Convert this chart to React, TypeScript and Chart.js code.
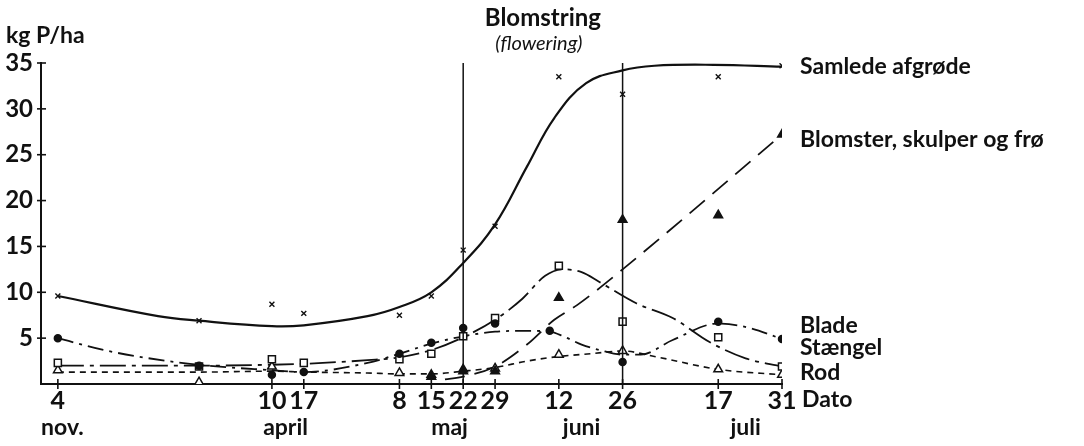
import React, { useEffect, useRef } from "react";
import { Chart, registerables } from "chart.js";

Chart.register(...registerables);

const WIDTH = 1084;
const HEIGHT = 446;
const FONT = "Lato, 'DejaVu Sans', sans-serif";
const INK = "#111";

// Days counted from 10 April; the winter months are compressed so that 4 Nov sits at -47.
const tickDays = [-47, 0, 7, 28, 35, 42, 49, 63, 77, 98, 112];
const tickLabels = ["4", "10", "17", "8", "15", "22", "29", "12", "26", "17", "31"];
const monthDays = [-46, 3, 39, 68, 104];
const monthLabels = ["nov.", "april", "maj", "juni", "juli"];
const floweringDays = [42, 77];
const yTickValues = [5, 10, 15, 20, 25, 30, 35];

// Measured samples (kg P/ha)
const samledeDays = [-47, -16, 0, 7, 28, 35, 42, 49, 63, 77, 98, 112];
const samledeValues = [9.6, 6.9, 8.7, 7.7, 7.5, 9.6, 14.6, 17.2, 33.5, 31.6, 33.5, 34.7];

const blomsterDays = [35, 42, 49, 63, 77, 98, 112];
const blomsterValues = [0.8, 1.4, 1.4, 9.4, 17.9, 18.4, 27.2];

const bladeDays = [-47, -16, 0, 7, 28, 35, 42, 49, 61, 77, 98, 112];
const bladeValues = [5.0, 2.0, 1.0, 1.3, 3.3, 4.5, 6.1, 6.6, 5.8, 2.4, 6.8, 4.9];

const staengelDays = [-47, -16, 0, 7, 28, 35, 42, 49, 63, 77, 98, 112];
const staengelValues = [2.3, 1.9, 2.7, 2.3, 2.7, 3.3, 5.2, 7.2, 12.9, 6.8, 5.1, 1.9];

const rodDays = [-47, -16, 0, 28, 35, 42, 49, 63, 77, 98, 112];
const rodValues = [1.5, 0.2, 1.9, 1.2, 1.0, 1.6, 1.7, 3.2, 3.6, 1.6, 1.0];

// Hand-fitted trend curves
const samledeCurveDays = [-47, -25, -16, 0, 7, 21, 28, 35, 42, 49, 56, 62, 69, 77, 84, 97, 112];
const samledeCurveValues = [9.6, 7.4, 6.9, 6.3, 6.4, 7.4, 8.4, 10.0, 13.2, 17.4, 23.7, 29.0, 32.8, 34.2, 34.7, 34.8, 34.6];

const blomsterCurveDays = [38, 42, 49, 56, 62, 67, 77, 112];
const blomsterCurveValues = [0.5, 0.8, 1.9, 4.3, 7.0, 8.6, 12.5, 27.2];

const bladeCurveDays = [-47, -36, -18, 0, 7, 21, 28, 35, 42, 49, 56, 61, 64, 68, 72, 77, 81, 88, 98, 105, 112];
const bladeCurveValues = [5.0, 3.6, 2.2, 1.5, 1.3, 2.3, 3.3, 4.4, 5.2, 5.7, 5.8, 5.7, 5.2, 4.3, 3.7, 3.2, 3.2, 4.8, 6.6, 6.1, 4.9];

const staengelCurveDays = [-47, -30, -16, 0, 7, 21, 28, 35, 42, 49, 55, 60, 64, 68, 72, 80, 88, 96, 104, 112];
const staengelCurveValues = [2.0, 2.0, 2.0, 2.1, 2.2, 2.6, 2.9, 3.7, 5.1, 7.0, 9.3, 11.8, 12.5, 12.2, 11.1, 8.8, 7.2, 4.6, 2.8, 1.9];

const rodCurveDays = [-47, -16, 0, 7, 21, 28, 35, 42, 49, 56, 63, 70, 77, 84, 98, 112];
const rodCurveValues = [1.3, 1.3, 1.4, 1.3, 1.2, 1.1, 1.1, 1.4, 1.8, 2.5, 3.0, 3.3, 3.6, 3.0, 1.6, 1.0];

// Series names written at the right-hand end, with the value they sit at
const seriesNames = ["Samlede afgrøde", "Blomster, skulper og frø", "Blade", "Stængel", "Rod"];
const seriesNameLevels = [34.6, 26.6, 6.4, 4.0, 1.2];

const pairs = (xs: number[], ys: number[]) => xs.map((x, i) => ({ x, y: ys[i] }));

const curve = (xs: number[], ys: number[], dash: number[], width = 1.8, smooth = false) => ({
  data: pairs(xs, ys),
  showLine: true,
  borderColor: INK,
  borderWidth: width,
  borderDash: dash,
  pointRadius: 0,
  cubicInterpolationMode: smooth ? ("default" as const) : ("monotone" as const),
  tension: smooth ? 0.4 : 0,
  fill: false,
  order: 2,
});

const marks = (xs: number[], ys: number[], style: string, radius: number, filled: boolean) => ({
  data: pairs(xs, ys),
  showLine: false,
  pointStyle: style,
  pointRadius: radius,
  pointBorderColor: INK,
  pointBackgroundColor: filled ? INK : "#fff",
  pointBorderWidth: style === "crossRot" ? 1.4 : 1.5,
  order: 1,
});

const decorations = {
  id: "decorations",
  afterDraw(chart: any) {
    const { ctx, chartArea, scales } = chart;
    const xs = scales.x;
    const ys = scales.y;
    ctx.save();
    ctx.strokeStyle = INK;
    ctx.fillStyle = INK;

    // tick marks crossing the axes
    ctx.lineWidth = 1.6;
    yTickValues.forEach((v) => {
      const y = ys.getPixelForValue(v);
      ctx.beginPath();
      ctx.moveTo(chartArea.left - 4, y);
      ctx.lineTo(chartArea.left + 5, y);
      ctx.stroke();
    });
    tickDays.forEach((d) => {
      const x = xs.getPixelForValue(d);
      ctx.beginPath();
      ctx.moveTo(x, chartArea.bottom - 5);
      ctx.lineTo(x, chartArea.bottom + 5);
      ctx.stroke();
    });

    // flowering period
    ctx.lineWidth = 1.5;
    floweringDays.forEach((d) => {
      const x = xs.getPixelForValue(d);
      ctx.beginPath();
      ctx.moveTo(x, ys.getPixelForValue(35));
      ctx.lineTo(x, ys.getPixelForValue(0));
      ctx.stroke();
    });
    const midX = (xs.getPixelForValue(floweringDays[0]) + xs.getPixelForValue(floweringDays[1])) / 2;
    ctx.textAlign = "center";
    ctx.textBaseline = "middle";
    ctx.font = `bold 24px ${FONT}`;
    ctx.fillText("Blomstring", midX, 18);
    ctx.font = `italic 20px ${FONT}`;
    ctx.fillText("(flowering)", midX - 4, 44);

    // axis unit
    ctx.textAlign = "left";
    ctx.font = `bold 23px ${FONT}`;
    ctx.fillText("kg P/ha", 6, 36);

    // series names
    seriesNames.forEach((name, i) => {
      ctx.fillText(name, chartArea.right + 18, ys.getPixelForValue(seriesNameLevels[i]));
    });

    // month names and date caption
    ctx.textAlign = "center";
    monthLabels.forEach((m, i) => {
      ctx.fillText(m, xs.getPixelForValue(monthDays[i]), 428);
    });
    ctx.textAlign = "left";
    ctx.fillText("Dato", chartArea.right + 20, 400);
    ctx.restore();
  },
};

export default function App() {
  const canvasRef = useRef<HTMLCanvasElement | null>(null);

  useEffect(() => {
    const canvas = canvasRef.current;
    if (!canvas) return;
    const chart = new Chart(canvas, {
      type: "scatter",
      data: {
        datasets: [
          curve(samledeCurveDays, samledeCurveValues, [], 2.2, true),
          curve(blomsterCurveDays, blomsterCurveValues, [20, 10]),
          curve(bladeCurveDays, bladeCurveValues, [16, 6, 3, 6]),
          curve(staengelCurveDays, staengelCurveValues, [26, 6, 4, 6]),
          curve(rodCurveDays, rodCurveValues, [6, 5], 1.6),
          marks(samledeDays, samledeValues, "crossRot", 3.5, false),
          marks(blomsterDays, blomsterValues, "triangle", 5, true),
          marks(bladeDays, bladeValues, "circle", 3.5, true),
          marks(staengelDays, staengelValues, "rect", 5, false),
          marks(rodDays, rodValues, "triangle", 5, false),
        ] as any,
      },
      options: {
        animation: false,
        responsive: false,
        devicePixelRatio: 1,
        layout: { padding: { left: 0, right: WIDTH - 782, top: 63, bottom: 0 } },
        plugins: { legend: { display: false }, tooltip: { enabled: false } },
        scales: {
          x: {
            type: "linear",
            min: -50.7,
            max: 112,
            grid: { display: false },
            border: { display: true, color: INK, width: 2 },
            afterBuildTicks: (scale: any) => {
              scale.ticks = tickDays.map((v) => ({ value: v }));
            },
            afterFit: (scale: any) => {
              scale.height = HEIGHT - 384;
            },
            ticks: {
              autoSkip: false,
              maxRotation: 0,
              padding: -6,
              color: INK,
              font: { family: FONT, size: 25, weight: "bold" },
              callback: (v: any) => {
                const i = tickDays.indexOf(Number(v));
                return i >= 0 ? tickLabels[i] : "";
              },
            },
          },
          y: {
            type: "linear",
            min: 0,
            max: 35,
            grid: { display: false },
            border: { display: true, color: INK, width: 2 },
            afterBuildTicks: (scale: any) => {
              scale.ticks = yTickValues.map((v) => ({ value: v }));
            },
            afterFit: (scale: any) => {
              scale.width = 41;
            },
            ticks: {
              padding: 0,
              color: INK,
              font: { family: FONT, size: 24, weight: "bold" },
            },
          },
        },
      },
      plugins: [decorations],
    } as any);
    return () => chart.destroy();
  }, []);

  return (
    <div style={{ position: "fixed", left: 0, top: 0, width: WIDTH, height: HEIGHT, background: "#fff" }}>
      <canvas ref={canvasRef} width={WIDTH} height={HEIGHT} style={{ width: WIDTH, height: HEIGHT }} />
    </div>
  );
}
